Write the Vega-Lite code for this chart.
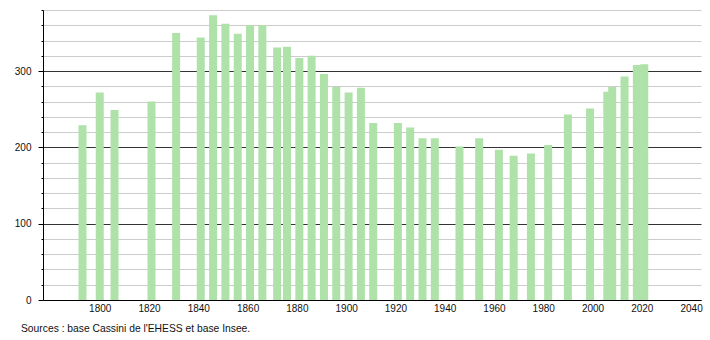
{
  "$schema": "https://vega.github.io/schema/vega-lite/v6.json",
  "width": 658,
  "height": 290,
  "autosize": {"type": "none"},
  "padding": {"left": 43, "top": 10, "right": 9, "bottom": 40},
  "background": "white",
  "config": {
    "view": {"stroke": null},
    "font": "Liberation Sans",
    "axis": {"labelFont": "Liberation Sans", "labelFontSize": 10, "labelColor": "#111"}
  },
  "title": {
    "text": "Sources : base Cassini de l'EHESS et base Insee.",
    "orient": "bottom",
    "anchor": "start",
    "frame": "group",
    "dx": -22,
    "offset": 11,
    "fontSize": 10.3,
    "fontWeight": "normal",
    "font": "Liberation Sans",
    "color": "#111"
  },
  "data": {
    "values": [
      {"year": 1793, "pop": 229},
      {"year": 1800, "pop": 272},
      {"year": 1806, "pop": 249},
      {"year": 1821, "pop": 260},
      {"year": 1831, "pop": 350},
      {"year": 1841, "pop": 344},
      {"year": 1846, "pop": 373},
      {"year": 1851, "pop": 362},
      {"year": 1856, "pop": 349},
      {"year": 1861, "pop": 360},
      {"year": 1866, "pop": 360},
      {"year": 1872, "pop": 331},
      {"year": 1876, "pop": 332},
      {"year": 1881, "pop": 317},
      {"year": 1886, "pop": 320},
      {"year": 1891, "pop": 296},
      {"year": 1896, "pop": 279},
      {"year": 1901, "pop": 272},
      {"year": 1906, "pop": 278},
      {"year": 1911, "pop": 232},
      {"year": 1921, "pop": 232},
      {"year": 1926, "pop": 226},
      {"year": 1931, "pop": 212},
      {"year": 1936, "pop": 212},
      {"year": 1946, "pop": 201},
      {"year": 1954, "pop": 212},
      {"year": 1962, "pop": 197},
      {"year": 1968, "pop": 189},
      {"year": 1975, "pop": 192},
      {"year": 1982, "pop": 203},
      {"year": 1990, "pop": 243},
      {"year": 1999, "pop": 251},
      {"year": 2006, "pop": 273},
      {"year": 2008, "pop": 279},
      {"year": 2013, "pop": 293},
      {"year": 2018, "pop": 308},
      {"year": 2021, "pop": 309}
    ]
  },
  "mark": {"type": "bar", "width": 8, "color": "#aee2a9"},
  "encoding": {
    "x": {
      "field": "year",
      "type": "quantitative",
      "scale": {"domain": [1779, 2042], "nice": false, "zero": false},
      "axis": {
        "title": null,
        "values": [1800, 1820, 1840, 1860, 1880, 1900, 1920, 1940, 1960, 1980, 2000, 2020, 2040],
        "format": "d",
        "grid": false,
        "ticks": false,
        "labelPadding": 3,
        "domainColor": "#000",
        "domainWidth": 1
      }
    },
    "y": {
      "field": "pop",
      "type": "quantitative",
      "scale": {"domain": [0, 380], "nice": false},
      "axis": {
        "title": null,
        "values": [0, 20, 40, 60, 80, 100, 120, 140, 160, 180, 200, 220, 240, 260, 280, 300, 320, 340, 360, 380],
        "labelExpr": "datum.value % 100 === 0 ? datum.label : ''",
        "grid": true,
        "gridColor": {"condition": {"test": "datum.value % 100 === 0", "value": "#333333"}, "value": "#cccccc"},
        "tickSize": {"condition": {"test": "datum.value % 100 === 0", "value": 5}, "value": 2},
        "tickColor": "#000",
        "labelPadding": 7,
        "domainColor": "#000"
      }
    }
  }
}
